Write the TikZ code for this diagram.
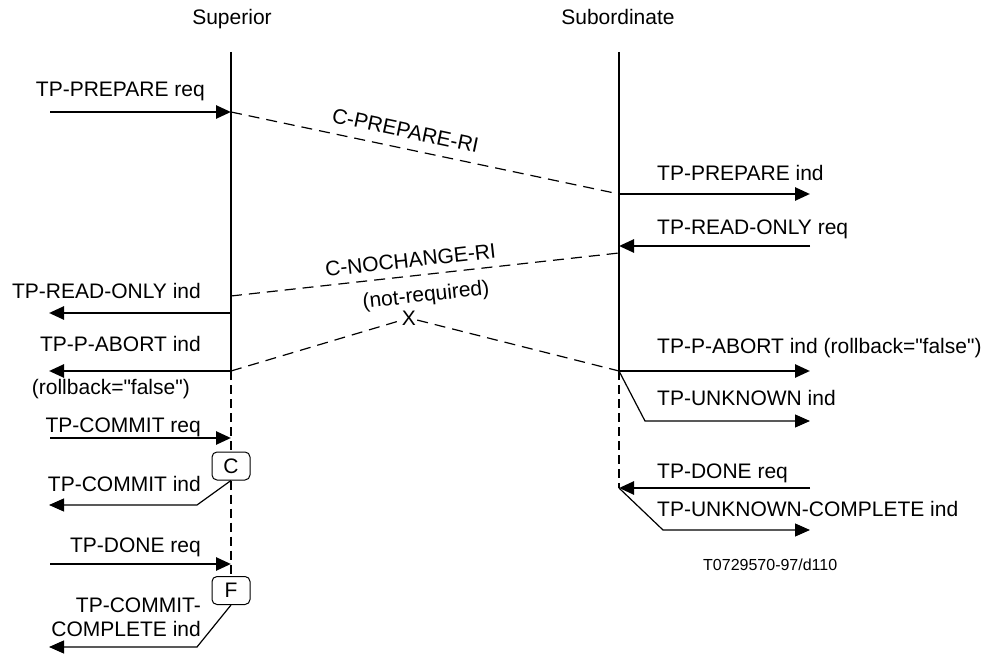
\documentclass[tikz,border=0pt]{standalone}
\usepackage{fontspec}
\setmainfont{Liberation Sans}[Ligatures=TeXOff]
\usetikzlibrary{arrows.meta}
\begin{document}
\begin{tikzpicture}[x=1pt,y=-1pt,
  lbl/.style={inner sep=0pt, font=\fontsize{21}{24}\selectfont},
  small/.style={inner sep=0pt, font=\fontsize{16}{19}\selectfont},
  lifeline/.style={line width=2.2pt},
  lifedash/.style={line width=2pt, dash pattern=on 9pt off 5pt},
  msg/.style={line width=1.2pt, dash pattern=on 11pt off 7pt},
  prim/.style={line width=2.6pt, -{Triangle[length=15pt,width=13pt]}},
  bent/.style={line width=1.2pt, -{Triangle[length=15pt,width=13pt]}},
  evbox/.style={draw, line width=1pt, rounded corners=5pt, minimum width=38pt,
    minimum height=28pt, inner sep=0pt, fill=white, font=\fontsize{21}{24}\selectfont}
]
\useasboundingbox (0,0) rectangle (989,655);

% headers
\node[lbl, anchor=base] (hsup) at (232,25) {Superior};
\node[lbl, anchor=base] (hsub) at (618,25) {Subordinate};

% superior lifeline points
\coordinate (supTop) at (231,52);
\coordinate (supA) at (231,112);
\coordinate (supB) at (231,296);
\coordinate (supC) at (231,313);
\coordinate (supD) at (231,371);
\coordinate (supE) at (231,438);
\coordinate (supF) at (231,564);
\node[evbox] (cbox) at (231,466) {C};
\node[evbox] (fbox) at (231,590.5) {F};

% left free ends
\coordinate (l1) at (50,112);
\coordinate (l2) at (49,313);
\coordinate (l3) at (49,371);
\coordinate (l4) at (50,438);
\coordinate (l5b) at (197,505);
\coordinate (l5) at (49,505);
\coordinate (l6) at (50,564);
\coordinate (l7b) at (197,647);
\coordinate (l7) at (49,647);

% subordinate lifeline points
\coordinate (subTop) at (619,52);
\coordinate (subA) at (619,194);
\coordinate (subB) at (619,246);
\coordinate (subB2) at (619,253);
\coordinate (subD) at (619,371);
\coordinate (subE) at (619,488);

% right free ends
\coordinate (r1) at (810,194);
\coordinate (r2) at (810,246);
\coordinate (r3) at (810,371);
\coordinate (r4b) at (645,421);
\coordinate (r4) at (810,421);
\coordinate (r5) at (810,488);
\coordinate (r6b) at (663,530);
\coordinate (r6) at (810,530);

% lifelines
\draw[lifeline] (supTop) -- (supD);
\draw[lifedash] (supD) -- (cbox.north);
\draw[lifedash] (cbox.south) -- (fbox.north);
\draw[lifeline] (subTop) -- (subD);
\draw[lifedash] (subD) -- (subE);

% left side primitives
\draw[prim] (l1) -- (supA);
\node[lbl, anchor=base east] (t1) at (205,97) {TP-PREPARE req};
\draw[prim] (supC) -- (l2);
\node[lbl, anchor=base east] (t2) at (201,299) {TP-READ-ONLY ind};
\draw[prim] (supD) -- (l3);
\node[lbl, anchor=base east] (t3) at (201,352) {TP-P-ABORT ind};
\node[lbl, anchor=base east] (t3b) at (190,395) {(rollback="false")};
\draw[prim] (l4) -- (supE);
\node[lbl, anchor=base east] (t4) at (201,432) {TP-COMMIT req};
\draw[bent] (cbox.south) -- (l5b) -- (l5);
\node[lbl, anchor=base east] (t5) at (201,491) {TP-COMMIT ind};
\draw[prim] (l6) -- (supF);
\node[lbl, anchor=base east] (t6) at (201,552) {TP-DONE req};
\draw[bent] (fbox.south) -- (l7b) -- (l7);
\node[lbl, anchor=base east] (t7) at (201,612) {TP-COMMIT-};
\node[lbl, anchor=base east] (t7b) at (201,636) {COMPLETE ind};

% right side primitives
\draw[prim] (subA) -- (r1);
\node[lbl, anchor=base west] (u1) at (657,181) {TP-PREPARE ind};
\draw[prim] (r2) -- (subB);
\node[lbl, anchor=base west] (u2) at (657,235) {TP-READ-ONLY req};
\draw[prim] (subD) -- (r3);
\node[lbl, anchor=base west] (u3) at (657,354) {TP-P-ABORT ind (rollback="false")};
\draw[bent] (subD) -- (r4b) -- (r4);
\node[lbl, anchor=base west] (u4) at (657,405) {TP-UNKNOWN ind};
\draw[prim] (r5) -- (subE);
\node[lbl, anchor=base west] (u5) at (657,478) {TP-DONE req};
\draw[bent] (subE) -- (r6b) -- (r6);
\node[lbl, anchor=base west] (u6) at (657,516) {TP-UNKNOWN-COMPLETE ind};
\node[small, anchor=base west] (ref) at (703,570) {T0729570-97/d110};

% protocol messages
\draw[msg] (supA) -- node[lbl, sloped, pos=0.44, above=10pt] {C-PREPARE-RI} (subA);
\draw[msg] (supB) -- node[lbl, sloped, pos=0.467, above=8pt] {C-NOCHANGE-RI} (subB2);
\node[lbl, rotate=6.3] (nr) at (426,296) {(not-required)};
\node[lbl, inner sep=1pt] (xx) at (409,318) {X};
\draw[msg] (supD) -- (xx);
\draw[msg] (xx) -- (subD);
\end{tikzpicture}
\end{document}
